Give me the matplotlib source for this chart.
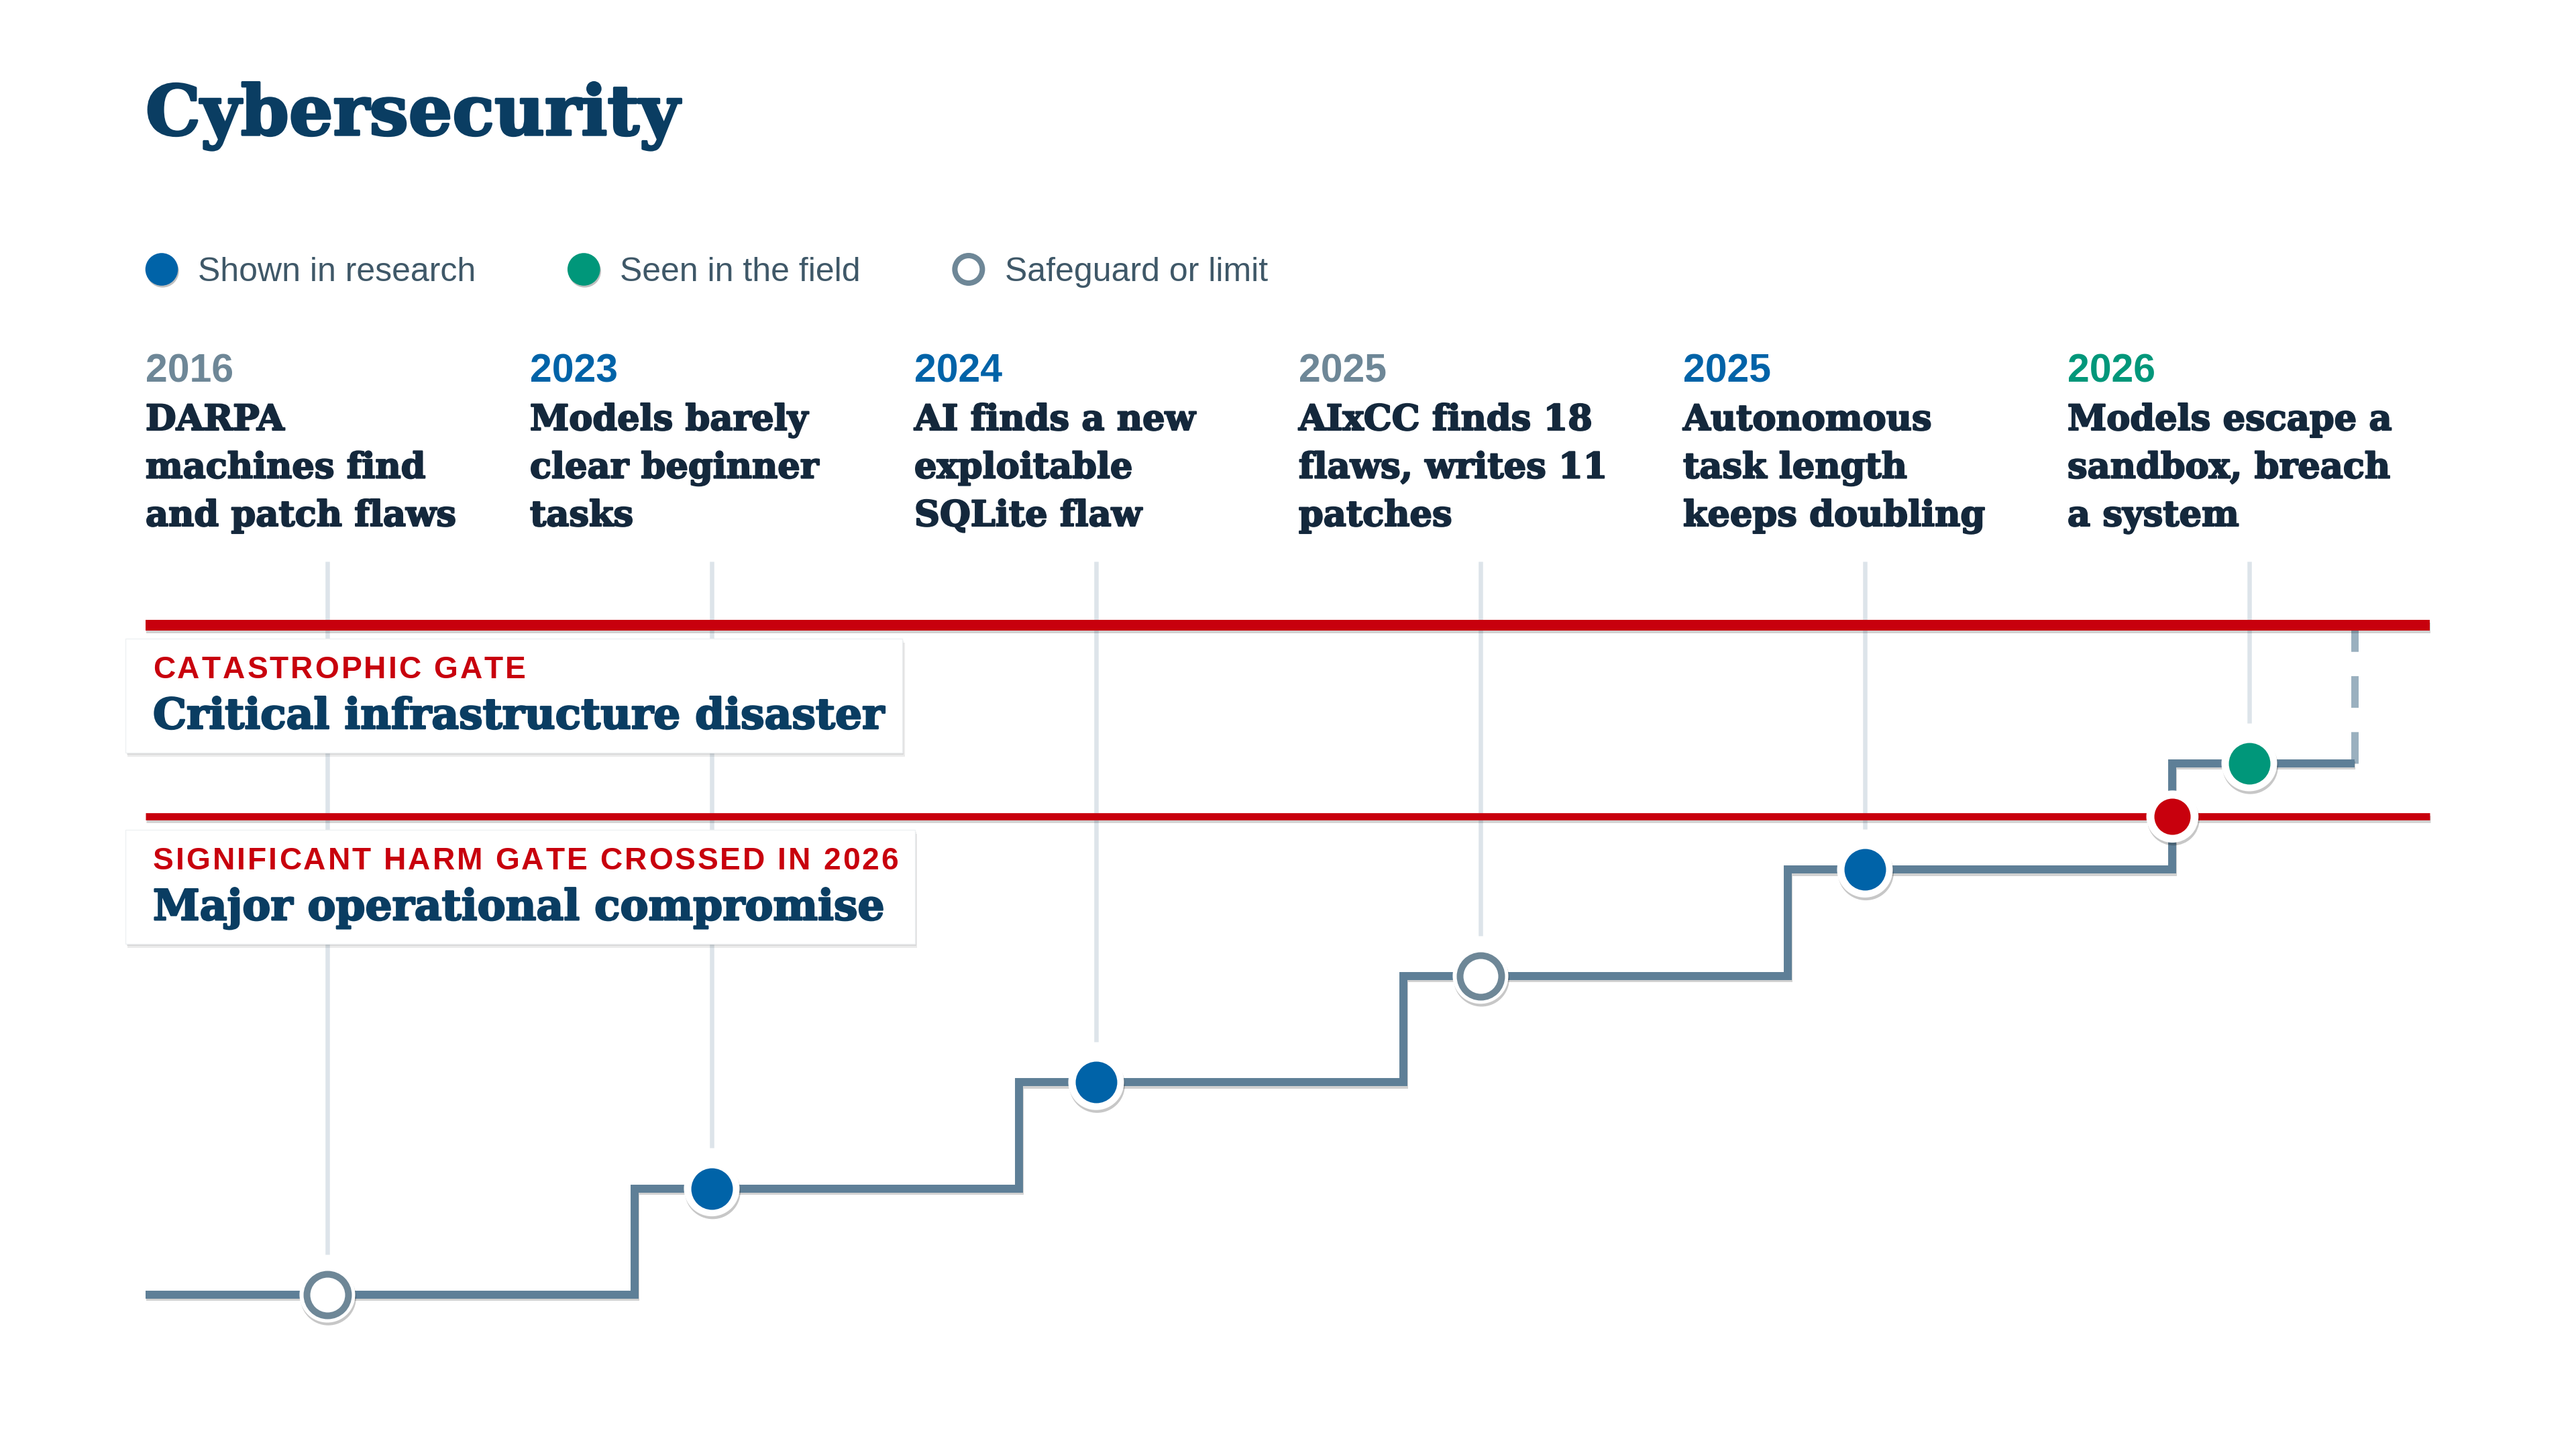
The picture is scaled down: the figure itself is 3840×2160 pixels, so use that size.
import matplotlib
matplotlib.use('Agg')
import matplotlib.pyplot as plt
import matplotlib.patheffects as pe
from matplotlib.lines import Line2D
from matplotlib.patches import Rectangle
from matplotlib import transforms, font_manager, ft2font

# ======================================
# Data
# ======================================

years = ['2016', '2023', '2024', '2025', '2025', '2026']
kinds = ['limit', 'research', 'research', 'limit', 'research', 'field']
levels = [0, 1, 2, 3, 4, 5]
captions = [
    ['DARPA', 'machines find', 'and patch flaws'],
    ['Models barely', 'clear beginner', 'tasks'],
    ['AI finds a new', 'exploitable', 'SQLite flaw'],
    ['AIxCC finds 18', 'flaws, writes 11', 'patches'],
    ['Autonomous', 'task length', 'keeps doubling'],
    ['Models escape a', 'sandbox, breach', 'a system'],
]

gate_levels = [6.3, 4.5]
gate_tags = ['CATASTROPHIC GATE', 'SIGNIFICANT HARM GATE CROSSED IN 2026']
gate_names = ['Critical infrastructure disaster', 'Major operational compromise']
crossed_event = 5          # step into this event crosses the lower gate
projected_level = 6.3      # dashed continuation goes up to the top gate

legend_labels = ['Shown in research', 'Seen in the field', 'Safeguard or limit']

# ======================================
# Style
# ======================================

NAVY = '#0A3D62'
INK = '#14283C'
RED = '#C8000D'
STEP = '#5E7F97'
DASH = '#9AB0BF'
GUIDE = '#DDE4EA'
LEGEND_TXT = '#3F5868'
kind_color = {'research': '#0063A8', 'field': '#00977A', 'limit': '#6E8797'}

SERIF = 'DejaVu Serif'
SANS = 'Liberation Sans'
TAG_SIZE = 33.2

W, H, DPI = 3840, 2160, 100
X0, DX = 488, 573        # pixel x of event 0, pixels per event
Y0, DY = 1930, 158.4     # pixel y (from top) of level 0, pixels per level
STEP_BACK = 0.2          # step rises this far before each event
START, END = -0.473, 5.274
GATE_END = 5.47

fig = plt.figure(figsize=(W / DPI, H / DPI), dpi=DPI)
fig.patch.set_facecolor('white')
ax = fig.add_axes([0, 0, 1, 1])
ax.axis('off')
ax.set_xlim(-X0 / DX, (W - X0) / DX)
ax.set_ylim((Y0 - H) / DY, Y0 / DY)

renderer = fig.canvas.get_renderer()


def fy(px):
    return 1 - px / H


def fit(texts, ref, target_px):
    w = ref.get_window_extent(renderer).width
    for t in texts:
        t.set_fontsize(t.get_fontsize() * target_px / w)


def shadow(alpha=0.2, dy=-3):
    return [pe.SimplePatchShadow(offset=(1, dy), shadow_rgbFace='k', alpha=alpha), pe.Normal()]


def heavy(color, w=1.6):
    # serif face is lighter than the original, thicken it a little
    return [pe.withStroke(linewidth=w, foreground=color)]


line_shadow = [pe.SimpleLineShadow(offset=(0.5, -2.5), shadow_color='k', alpha=0.18), pe.Normal()]

# glyph advances for the letter-spaced gate tags
tag_font = ft2font.FT2Font(font_manager.findfont(
    font_manager.FontProperties(family=SANS, weight='bold')))
tag_font.set_size(TAG_SIZE, DPI)


def advances(s):
    return [tag_font.load_char(ord(c)).linearHoriAdvance / 65536 for c in s]


# tracking chosen so the long tag spans ~1111 px like the original
TRACK = (1111 - sum(advances(gate_tags[1]))) / (len(gate_tags[1]) - 1)

# ======================================
# Title and legend
# ======================================

title = fig.text(217 / W, fy(201), 'Cybersecurity', family=SERIF, weight='bold',
                 size=74, color=NAVY, va='baseline', path_effects=heavy(NAVY, 2.5))
fit([title], title, 796)

handles = [
    Line2D([0], [0], ls='none', marker='o', ms=35, mfc=kind_color['research'], mec='none',
           path_effects=shadow(0.25, -2)),
    Line2D([0], [0], ls='none', marker='o', ms=35, mfc=kind_color['field'], mec='none',
           path_effects=shadow(0.25, -2)),
    Line2D([0], [0], ls='none', marker='o', ms=29.5, mfc='white', mec=kind_color['limit'], mew=5.8,
           path_effects=shadow(0.25, -2)),
]
ax.legend(handles, legend_labels, loc='center left', bbox_to_anchor=(216 / W, fy(406)),
          bbox_transform=fig.transFigure, ncol=3, frameon=False,
          prop={'family': SANS, 'size': 36}, labelcolor=LEGEND_TXT,
          handlelength=1.0, handletextpad=0.58, columnspacing=2.72,
          borderpad=0, borderaxespad=0)

# ======================================
# Event captions
# ======================================

bt = transforms.blended_transform_factory(ax.transData, fig.transFigure)
body = []
for i, (yr, kind, lines) in enumerate(zip(years, kinds, captions)):
    x = i + START
    ax.text(x, fy(570), yr, transform=bt, family=SANS, weight='bold', size=42.5,
            color=kind_color[kind], va='baseline')
    for j, line in enumerate(lines):
        body.append(ax.text(x, fy(641 + 71.5 * j), line, transform=bt, family=SERIF,
                            weight='bold', size=39, color=INK, va='baseline',
                            path_effects=heavy(INK)))
fit(body, body[2], 463)

# guide lines from captions down to each marker
ax.vlines(range(len(years)), [lv + 0.38 for lv in levels], 6.9, color=GUIDE, lw=4.7, zorder=1)

# ======================================
# Gates
# ======================================

names = []
tag_right = []
for lv, tag, name in zip(gate_levels, gate_tags, gate_names):
    ax.plot([START, GATE_END], [lv, lv], color=RED, lw=11.5 if lv > 5 else 7.7,
            solid_capstyle='butt', zorder=2, path_effects=line_shadow)
    pen = 11
    for ch, adv in zip(tag, advances(tag)):
        ax.text(START, lv, ch, family=SANS, weight='bold', size=TAG_SIZE, color=RED,
                va='baseline', zorder=4,
                transform=transforms.offset_copy(ax.transData, fig=fig, x=pen, y=-79, units='dots'))
        pen += adv + TRACK
    tag_right.append(pen - TRACK)
    names.append(ax.text(START, lv, name, family=SERIF, weight='bold', size=51, color=NAVY,
                         va='baseline', zorder=4, path_effects=heavy(NAVY, 1.8),
                         transform=transforms.offset_copy(ax.transData, fig=fig, x=11, y=-154, units='dots')))
fit(names, names[1], 1090)

for lv, tr, nm in zip(gate_levels, tag_right, names):
    gx, gy = ax.transData.transform((START, lv))
    right = max(gx + tr, nm.get_window_extent(renderer).x1) + 25
    left = gx - 30
    top = gy - 20
    bottom = gy - 190
    box = Rectangle((left / W, bottom / H), (right - left) / W, (top - bottom) / H,
                    transform=fig.transFigure, facecolor='white', edgecolor='#EEF1F3', lw=1,
                    zorder=3, path_effects=[
                        pe.SimplePatchShadow(offset=(1.5, -2), shadow_rgbFace='k', alpha=0.08),
                        pe.SimplePatchShadow(offset=(2.5, -4), shadow_rgbFace='k', alpha=0.08),
                        pe.Normal()])
    ax.add_artist(box)

# ======================================
# Capability staircase
# ======================================

xs = [START] + [i - STEP_BACK for i in range(1, len(levels))] + [END]
ys = levels + [levels[-1]]
ax.step(xs, ys, where='post', color=STEP, lw=8.6, solid_joinstyle='miter',
        solid_capstyle='butt', zorder=4, path_effects=line_shadow)
ax.plot([END, END], [levels[-1], projected_level], color=DASH, lw=7.9,
        ls=(0, (4.3, 3.3)), dash_capstyle='butt', zorder=1.5)

for i, (kind, lv) in enumerate(zip(kinds, levels)):
    ax.plot(i, lv, 'o', ms=59.8, mfc='white', mec='none', zorder=5, path_effects=shadow(0.22, -3))
    if kind == 'limit':
        ax.plot(i, lv, 'o', ms=44.6, mfc='white', mec=kind_color[kind], mew=7.2, zorder=6)
    else:
        ax.plot(i, lv, 'o', ms=44.6, mfc=kind_color[kind], mec='none', zorder=6)

# gate crossing point
cx = crossed_event - STEP_BACK
ax.plot(cx, gate_levels[1], 'o', ms=56, mfc='white', mec='none', zorder=5, path_effects=shadow(0.22, -3))
ax.plot(cx, gate_levels[1], 'o', ms=38.9, mfc=RED, mec='none', zorder=6)

fig.savefig('out.png', dpi=DPI, facecolor='white')
